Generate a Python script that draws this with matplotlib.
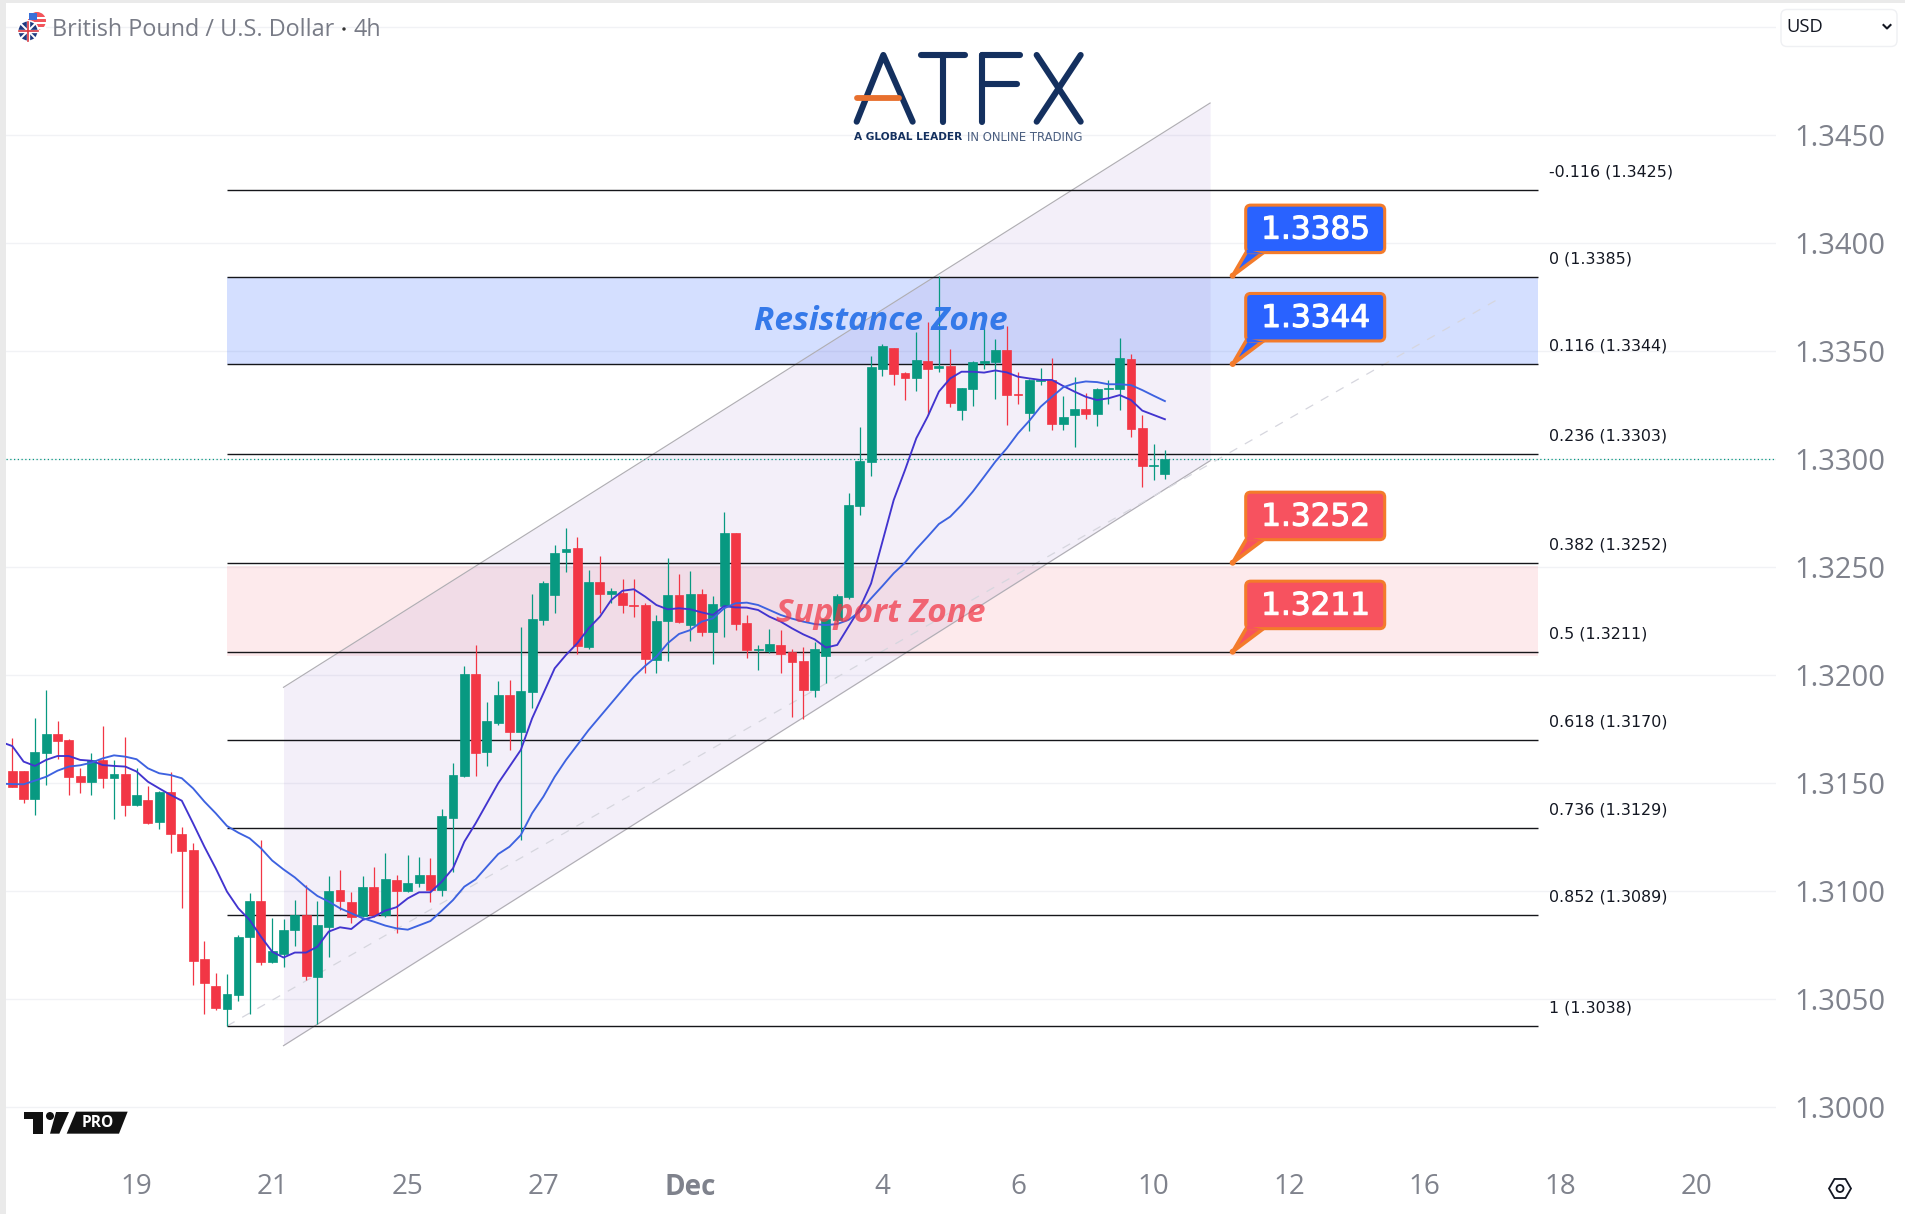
import math
import matplotlib
matplotlib.use("Agg")
import matplotlib.pyplot as plt
from matplotlib.patches import FancyBboxPatch, Polygon, Circle, Rectangle, RegularPolygon
import matplotlib.patheffects as pe

# ---------- data ----------
opens = [1.31556,1.31556,1.31428,1.31640,1.31727,1.31699,1.31532,1.31506,1.31607,1.31525,
 1.31542,1.31400,1.31421,1.31321,1.31458,1.31264,1.31188,1.30685,1.30560,1.30455,
 1.30520,1.30789,1.30954,1.30671,1.30709,1.30821,1.30887,1.30604,1.30835,1.31005,
 1.30949,1.30884,1.31019,1.30889,1.31051,1.31000,1.31037,1.31074,1.31005,1.31338,
 1.31532,1.32005,1.31645,1.31778,1.31907,1.31736,1.31923,1.32255,1.32370,1.32571,
 1.32588,1.32130,1.32430,1.32376,1.32380,1.32324,1.32324,1.32069,1.32250,1.32370,
 1.32231,1.32375,1.32199,1.32319,1.32657,1.32241,1.32116,1.32110,1.32139,1.32105,
 1.32065,1.31931,1.32088,1.32255,1.32361,1.32782,1.32986,1.33416,1.33514,1.33399,
 1.33375,1.33454,1.33423,1.33430,1.33227,1.33324,1.33446,1.33449,1.33504,1.33301,
 1.33213,1.33361,1.33366,1.33162,1.33204,1.33231,1.33208,1.33324,1.33324,1.33463,
 1.33143,1.32967,1.32930]
closes = [1.31483,1.31428,1.31644,1.31727,1.31696,1.31529,1.31506,1.31607,1.31525,1.31542,
 1.31400,1.31445,1.31316,1.31458,1.31266,1.31187,1.30678,1.30576,1.30459,1.30523,
 1.30786,1.30952,1.30673,1.30721,1.30820,1.30887,1.30608,1.30843,1.31000,1.30954,
 1.30881,1.31019,1.30887,1.31056,1.31002,1.31037,1.31074,1.31005,1.31347,1.31537,
 1.32005,1.31640,1.31787,1.31907,1.31738,1.31926,1.32259,1.32426,1.32565,1.32583,
 1.32136,1.32430,1.32375,1.32387,1.32324,1.32319,1.32074,1.32250,1.32370,1.32245,
 1.32375,1.32199,1.32329,1.32657,1.32236,1.32116,1.32122,1.32143,1.32097,1.32060,
 1.31931,1.32120,1.32259,1.32366,1.32787,1.32991,1.33426,1.33523,1.33393,1.33375,
 1.33458,1.33416,1.33430,1.33259,1.33329,1.33449,1.33452,1.33504,1.33296,1.33296,
 1.33366,1.33366,1.33162,1.33194,1.33230,1.33208,1.33324,1.33329,1.33467,1.33139,
 1.32967,1.32974,1.33000]
highs = [1.31707,1.31556,1.31799,1.31931,1.31787,1.31702,1.31568,1.31637,1.31764,1.31607,
 1.31711,1.31568,1.31486,1.31465,1.31549,1.31295,1.31221,1.30769,1.30621,1.30616,
 1.30795,1.30989,1.31235,1.30874,1.30869,1.30958,1.31026,1.30954,1.31070,1.31097,
 1.30995,1.31070,1.31111,1.31176,1.31074,1.31167,1.31158,1.31153,1.31380,1.31593,
 1.32042,1.32139,1.31875,1.31972,1.31977,1.32222,1.32373,1.32435,1.32602,1.32680,
 1.32639,1.32486,1.32551,1.32401,1.32444,1.32444,1.32332,1.32278,1.32542,1.32468,
 1.32481,1.32398,1.32366,1.32755,1.32657,1.32278,1.32139,1.32213,1.32208,1.32120,
 1.32130,1.32153,1.32259,1.32375,1.32842,1.33148,1.33477,1.33532,1.33514,1.33403,
 1.33588,1.33634,1.33847,1.33509,1.33329,1.33454,1.33606,1.33555,1.33616,1.33403,
 1.33370,1.33421,1.33467,1.33291,1.33379,1.33305,1.33329,1.33366,1.33560,1.33486,
 1.33204,1.33069,1.33042]
lows = [1.31483,1.31409,1.31352,1.31491,1.31610,1.31445,1.31455,1.31445,1.31478,1.31333,
 1.31349,1.31395,1.31312,1.31289,1.31178,1.30923,1.30567,1.30432,1.30451,1.30374,
 1.30492,1.30432,1.30659,1.30667,1.30650,1.30746,1.30588,1.30384,1.30696,1.30912,
 1.30854,1.30881,1.30878,1.30881,1.30807,1.30995,1.31019,1.30949,1.30977,1.31088,
 1.31526,1.31534,1.31580,1.31769,1.31653,1.31236,1.31847,1.32231,1.32287,1.32477,
 1.32099,1.32120,1.32287,1.32333,1.32287,1.32268,1.32009,1.32009,1.32065,1.32241,
 1.32157,1.32181,1.32051,1.32176,1.32208,1.32079,1.32023,1.32103,1.32009,1.31806,
 1.31796,1.31898,1.31963,1.32247,1.32352,1.32741,1.32921,1.33384,1.33342,1.33273,
 1.33315,1.33204,1.33403,1.33241,1.33180,1.33245,1.33416,1.33278,1.33157,1.33254,
 1.33129,1.33342,1.33134,1.33134,1.33055,1.33185,1.33153,1.33254,1.33227,1.33102,
 1.32870,1.32903,1.32907]
ma_fast = [1.31690,1.31671,1.31599,1.31579,1.31607,1.31625,1.31625,1.31607,1.31603,1.31583,1.31579,
 1.31576,1.31553,1.31506,1.31475,1.31445,1.31418,1.31313,1.31205,1.31105,1.30997,
 1.30920,1.30866,1.30789,1.30719,1.30692,1.30715,1.30715,1.30742,1.30812,1.30832,
 1.30824,1.30866,1.30881,1.30909,1.30925,1.30966,1.30994,1.30994,1.31043,1.31105,
 1.31228,1.31313,1.31406,1.31499,1.31576,1.31653,1.31799,1.31915,1.32031,1.32093,
 1.32147,1.32216,1.32270,1.32347,1.32390,1.32397,1.32363,1.32324,1.32304,1.32309,
 1.32304,1.32290,1.32278,1.32319,1.32313,1.32312,1.32301,1.32270,1.32247,1.32216,
 1.32188,1.32165,1.32127,1.32139,1.32224,1.32309,1.32424,1.32617,1.32810,1.32949,
 1.33096,1.33196,1.33312,1.33373,1.33404,1.33404,1.33400,1.33410,1.33401,1.33381,
 1.33373,1.33366,1.33366,1.33338,1.33312,1.33288,1.33273,1.33281,1.33296,1.33273,
 1.33224,1.33204,1.33184]
ma_slow = [1.31497,1.31495,1.31494,1.31511,1.31529,1.31557,1.31576,1.31582,1.31594,1.31614,1.31628,
 1.31622,1.31610,1.31568,1.31545,1.31537,1.31522,1.31475,1.31414,1.31360,1.31301,
 1.31270,1.31244,1.31198,1.31141,1.31100,1.31063,1.31017,1.30977,1.30951,1.30920,
 1.30897,1.30874,1.30858,1.30840,1.30827,1.30821,1.30841,1.30861,1.30908,1.30958,
 1.31020,1.31054,1.31113,1.31171,1.31205,1.31259,1.31360,1.31437,1.31529,1.31607,
 1.31676,1.31745,1.31807,1.31869,1.31931,1.31992,1.32042,1.32085,1.32147,1.32190,
 1.32208,1.32247,1.32262,1.32309,1.32332,1.32335,1.32324,1.32301,1.32278,1.32261,
 1.32247,1.32236,1.32231,1.32236,1.32255,1.32293,1.32355,1.32412,1.32471,1.32520,
 1.32583,1.32640,1.32699,1.32733,1.32787,1.32849,1.32918,1.32988,1.33049,1.33119,
 1.33177,1.33242,1.33288,1.33332,1.33350,1.33359,1.33356,1.33346,1.33346,1.33342,
 1.33319,1.33293,1.33268]

fib_prices = [1.34244,1.33843,1.33440,1.33022,1.32519,1.32105,1.31698,1.31290,1.30888,1.30374]
fib_labels = ["-0.116 (1.3425)","0 (1.3385)","0.116 (1.3344)","0.236 (1.3303)","0.382 (1.3252)",
              "0.5 (1.3211)","0.618 (1.3170)","0.736 (1.3129)","0.852 (1.3089)","1 (1.3038)"]
fib_x = [19, 135]
resist_zone = [1.33440, 1.33843]
support_zone = [1.32088, 1.32505]
chan_x = [24, 106]
chan_low = [1.30284, 1.32992]
chan_high = [1.31943, 1.34648]
trend_x = [19, 131.65]
trend_y = [1.30375, 1.33745]
last_price = 1.32998
callout_x = 108
callout_prices = [1.33849, 1.33440, 1.32520, 1.32108]
callout_labels = ["1.3385", "1.3344", "1.3252", "1.3211"]
callout_colors = ["#2962FF", "#2962FF", "#F7525F", "#F7525F"]
y_ticks = [1.30,1.305,1.31,1.315,1.32,1.325,1.33,1.335,1.34,1.345,1.35]
y_labels = ["1.3000","1.3050","1.3100","1.3150","1.3200","1.3250","1.3300","1.3350","1.3400","1.3450",""]
x_ticks = [11,23,35,47,60,77,89,101,113,125,137,149]
x_labels = ["19","21","25","27","Dec","4","6","10","12","16","18","20"]

# ---------- layout ----------
W, H = 1905, 1214
plt.rcParams["font.family"] = ["Open Sans", "DejaVu Sans"]
fig = plt.figure(figsize=(W/100, H/100), dpi=100, facecolor="white")
L, R, T, B = 6, 1776, 3, 1150
ax = fig.add_axes([L/W, (H-B)/H, (R-L)/W, (B-T)/H])
ax.set_xlim((L-12.3)/11.3, (R-12.3)/11.3)
ax.set_ylim(1.32+(675-B)/21600, 1.32+(675-T)/21600)
for s in ax.spines.values():
    s.set_visible(False)
ax.set_yticks(y_ticks, y_labels)
ax.yaxis.tick_right()
ax.set_xticks(x_ticks, x_labels)
GRAY = "#7F828C"
ax.tick_params(axis="y", length=0, pad=13, labelsize=21, labelcolor=GRAY)
ax.tick_params(axis="x", length=0, pad=16.5, labelsize=20, labelcolor=GRAY)
for lab in ax.get_xticklabels():
    if lab.get_text() == "Dec":
        lab.set_fontweight("bold")
ax.grid(axis="y", color="#F1F2F5", lw=1.0, zorder=0)
ax.set_axisbelow(True)

# zones and channel
ax.fill_between(fib_x, resist_zone[0], resist_zone[1], color="#2962FF", alpha=0.2, lw=0, zorder=1)
ax.fill_between(fib_x, support_zone[0], support_zone[1], color="#F23645", alpha=0.1, lw=0, zorder=1)
ax.fill_between(chan_x, chan_low, chan_high, color="#673AB7", alpha=0.08, lw=0, zorder=1.5)
ax.plot(chan_x, chan_low, color="#B0AEB4", lw=0.85, zorder=2)
ax.plot(chan_x, chan_high, color="#B0AEB4", lw=0.85, zorder=2)
ax.plot(trend_x, trend_y, color="#D6D6DE", lw=0.9, ls=(0, (7, 7)), zorder=2)

# fib levels
ax.hlines(fib_prices, fib_x[0], fib_x[1], color="#15161A", lw=1.0, zorder=3)
for p, s in zip(fib_prices, fib_labels):
    ax.annotate(s, xy=(136, p), xytext=(0, 13), textcoords="offset points", fontsize=11.4,
                color="#131722", family="DejaVu Sans", va="center", ha="left")
ax.axhline(last_price, color="#089981", lw=0.9, ls=(0, (1, 2)), zorder=3)

# candles
GREEN, RED = "#089981", "#F23645"
xs = list(range(len(opens)))
cols = [GREEN if c >= o else RED for o, c in zip(opens, closes)]
ax.vlines(xs, lows, highs, colors=cols, lw=0.9, zorder=4)
ax.bar(xs, [abs(c-o) for o, c in zip(opens, closes)], bottom=[min(o, c) for o, c in zip(opens, closes)],
       width=0.79, color=cols, edgecolor=cols, lw=0.5, zorder=5)

# moving averages
mx = list(range(-1, len(ma_fast)-1))
ax.plot(mx, ma_fast, color="#4234CF", lw=1.35, zorder=6, solid_joinstyle="round")
ax.plot(mx, ma_slow, color="#3D62E0", lw=1.35, zorder=6, solid_joinstyle="round")

# zone captions
ax.text(76.85, 1.33636, "Resistance Zone", color="#2C74E8", fontsize=24, fontweight="bold",
        style="italic", ha="center", va="center", zorder=4.5, alpha=0.95)
ax.text(76.85, 1.32287, "Support Zone", color="#F23645", fontsize=24, fontweight="bold",
        style="italic", ha="center", va="center", zorder=7, alpha=0.72)

# overlay in pixel coordinates for decoration
ov = fig.add_axes([0, 0, 1, 1], zorder=10)
ov.set_xlim(0, W); ov.set_ylim(H, 0); ov.axis("off"); ov.patch.set_alpha(0)
ov.add_patch(Rectangle((0, 0), 6, H, color="#EAEAEA", lw=0))
ov.add_patch(Rectangle((0, 0), W, 3, color="#EAEAEA", lw=0))

# callouts
fig.canvas.draw()
OR = "#F37B2B"
for p, s, c in zip(callout_prices, callout_labels, callout_colors):
    px, py = ax.transData.transform((callout_x, p))
    tx, ty = px, H - py
    ov.add_patch(Polygon([(tx, ty), (tx+14, ty-24), (tx+32, ty-24)], closed=True, fc=c, ec=OR, lw=2.6, zorder=2))
    ov.add_patch(FancyBboxPatch((tx+13, ty-70.5), 139, 47.5, boxstyle="round,pad=0,rounding_size=5",
                                fc=c, ec=OR, lw=2.2, zorder=3))
    ov.add_patch(Polygon([(tx+14, ty-22), (tx+31, ty-22), (tx+14, ty-26)], closed=True, fc=c, ec="none", zorder=4))
    ov.add_patch(Circle((tx, ty), 3.0, fc=OR, ec="none", zorder=5))
    ov.text(tx+83, ty-45.5, s, color="white", fontsize=22.4, family="DejaVu Sans", ha="center", va="center",
            zorder=6, path_effects=[pe.withStroke(linewidth=0.8, foreground="white")])

# title
ov.text(52, 29.5, "British Pound / U.S. Dollar", color="#787B86", fontsize=16.8, va="center", ha="left")
ov.add_patch(Circle((344, 29), 1.7, fc="#333", ec="none"))
ov.text(354, 29.5, "4h", color="#787B86", fontsize=16.8, va="center", ha="left")
# flag icons
ov.add_patch(Circle((37, 21), 9, fc="#F2545B", ec="none"))
for yy in (17, 22, 27):
    ov.add_patch(Rectangle((28, yy), 18, 1.6, fc="white", ec="none", zorder=2.1))
ov.add_patch(Rectangle((29, 13), 8, 7, fc="#3A6FD8", ec="none", zorder=2.2))
ov.add_patch(Circle((28, 31), 11, fc="white", ec="none", zorder=2.4))
ov.add_patch(Circle((28, 31), 9.5, fc="#1F3A80", ec="none", zorder=2.5))
ov.plot([21.5, 34.5], [24.5, 37.5], color="white", lw=1.4, zorder=2.6)
ov.plot([21.5, 34.5], [37.5, 24.5], color="white", lw=1.4, zorder=2.6)
ov.plot([18.5, 37.5], [31, 31], color="white", lw=2.4, zorder=2.7)
ov.plot([28, 28], [21.5, 40.5], color="white", lw=2.4, zorder=2.7)
ov.plot([18.5, 37.5], [31, 31], color="#D9363E", lw=1.2, zorder=2.8)
ov.plot([28, 28], [21.5, 40.5], color="#D9363E", lw=1.2, zorder=2.8)

# ATFX logo
NAVY, ORG = "#14305F", "#E8702E"
def lz(xa, ya, c=NAVY, lw=4.4):
    ov.plot([820+v/3 for v in xa], [30+v/3 for v in ya], color=c, lw=lw, solid_capstyle="round",
            solid_joinstyle="round", zorder=3)
lz([110, 190, 278], [275, 75, 275])
lz([110, 238], [204, 204], ORG, 4.2)
lz([302, 435], [76, 76]); lz([370, 370], [76, 275])
lz([485, 600], [76, 76]); lz([485, 485], [76, 275]); lz([485, 590], [162, 162])
lz([650, 782], [75, 275]); lz([782, 650], [75, 275])
ov.text(854, 137.5, "A GLOBAL LEADER", color=NAVY, fontsize=7.6, fontweight="bold", family="DejaVu Sans", va="center")
ov.text(967, 137.5, "IN ONLINE TRADING", color="#4A5E80", fontsize=8.4, family="DejaVu Sans", va="center")

# TradingView mark
def tz(pts, **kw):
    return [(x/3, 1090+y/3) for x, y in pts]
ov.add_patch(Polygon(tz([(72,65),(128,65),(128,131),(100,131),(100,88),(72,88)]), fc="#111", ec="none"))
ov.add_patch(Polygon(tz([(168,66),(207,66),(178,131),(150,131)]), fc="#111", ec="none"))
ov.add_patch(Circle((50, 1116), 4, fc="#111", ec="none"))
ov.add_patch(Polygon(tz([(228,65),(383,65),(357,131),(200,131)]), fc="#111", ec="none"))
ov.text(97.5, 1123, "PRO", color="white", fontsize=11.2, fontweight="bold", ha="center", va="center")

# USD selector
ov.add_patch(FancyBboxPatch((1781, 9.5), 116, 37, boxstyle="round,pad=0,rounding_size=6", fc="white", ec="#EFF0F3", lw=1))
ov.text(1786.5, 27.5, "USD", color="#131722", fontsize=13.2, va="center", ha="left")
ov.plot([1883.5, 1887, 1890.5], [25, 28.5, 25], color="#131722", lw=1.5)
# gear
ov.add_patch(RegularPolygon((1840, 1188.5), 6, radius=11, orientation=math.pi/6, fc="none", ec="#131722", lw=1.3))
ov.add_patch(Circle((1840, 1188.5), 3.5, fc="none", ec="#131722", lw=1.3))

fig.savefig("out.png", dpi=100)
